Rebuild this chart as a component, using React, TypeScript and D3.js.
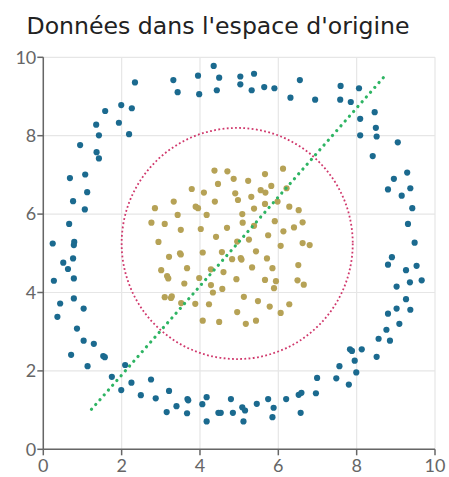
import React from 'react';
import * as d3 from 'd3';

// outer ring (blue) points
const ringX = [2.34, 3.32, 3.43, 3.95, 3.98, 4.35, 4.49, 4.43, 2.26, 1.99, 1.58, 1.35, 1.93, 1.42, 2.19, 0.94, 1.36, 1.42, 1.07, 0.68, 1.12, 0.76, 1.06, 0.66, 0.24, 0.79, 0.78, 0.76,
  0.51, 0.63, 0.27, 0.78, 0.43, 0.78, 0.36, 1.03, 0.86, 1.03, 1.29, 0.71, 1.53, 1.57, 1.13, 2.09, 1.75, 1.99, 2.25, 2.75, 2.49, 2.87, 3.21, 3.15, 3.40, 3.68, 3.70, 3.67, 4.06, 4.17, 4.17, 4.47, 4.53,
  4.79, 4.84, 5.08, 5.15, 5.11, 5.45, 5.74, 5.88, 5.85, 6.20, 6.52, 6.59, 6.57, 6.96, 6.99, 7.48, 7.80, 7.56, 7.99, 7.95, 7.83, 7.88, 8.13, 8.51, 8.56, 8.85, 8.76, 9.09, 8.80, 9.02, 9.37, 9.26, 9.02, 9.36, 9.66, 9.26, 9.53, 8.80, 8.90,
  5.03, 5.38, 5.03, 5.32, 5.64, 5.90, 6.55, 6.31, 6.94, 7.59, 8.06, 7.58, 7.85, 8.46, 8.09, 8.49, 8.09, 8.51, 9.05, 8.41, 9.29, 8.95, 8.80, 9.37, 9.15, 9.42, 9.31, 9.48];
const ringY = [9.36, 9.42, 9.11, 9.53, 9.06, 9.78, 9.48, 9.16, 8.70, 8.78, 8.63, 8.28, 8.33, 8.01, 8.04, 7.76, 7.58, 7.42, 7.01, 6.92, 6.56, 6.33, 6.12, 5.75, 5.25, 5.29, 5.21, 4.87,
  4.76, 4.60, 4.30, 4.36, 3.72, 3.85, 3.38, 3.59, 3.08, 2.77, 2.69, 2.41, 2.38, 2.35, 2.12, 2.15, 1.85, 1.51, 1.70, 1.78, 1.38, 1.30, 1.49, 0.95, 1.10, 1.28, 1.25, 0.92, 1.15, 1.33, 0.71, 0.93, 0.93,
  1.28, 0.93, 1.07, 0.99, 0.71, 1.16, 1.28, 1.06, 0.82, 1.28, 1.39, 1.44, 0.93, 1.43, 1.82, 1.81, 1.65, 2.12, 1.96, 2.26, 2.55, 2.51, 2.55, 2.36, 2.82, 2.77, 3.05, 3.20, 3.46, 3.59, 3.56, 3.83, 4.15, 4.26, 4.31, 4.57, 4.68, 4.71, 4.90,
  9.51, 9.58, 9.31, 9.16, 9.24, 9.21, 9.42, 8.97, 8.92, 9.27, 9.21, 8.92, 8.86, 8.60, 8.43, 8.20, 8.01, 7.98, 7.83, 7.48, 7.06, 6.90, 6.63, 6.66, 6.47, 6.15, 5.75, 5.27];

// inner cluster (gold) points
const coreX = [4.37, 4.70, 6.12, 5.66, 4.86, 4.46, 5.23, 5.82, 3.79, 4.10, 4.90, 5.55, 5.67, 6.21, 5.31, 4.97, 4.38, 3.33, 3.89, 3.95, 5.66, 5.98, 2.85, 5.38, 6.28, 6.52,
  3.43, 4.17, 5.08, 2.76, 3.10, 5.09, 5.38, 5.91, 6.62, 3.51, 4.02, 4.69, 6.40, 6.13, 2.94, 4.41, 5.25, 5.74, 4.95, 6.62, 6.80, 6.06, 3.21, 3.49, 3.51, 4.07, 4.56, 5.43,
  4.82, 5.04, 5.06, 5.71, 6.51, 3.01, 3.67, 4.28, 5.33, 5.85, 3.16, 3.19, 3.98, 4.60, 4.93, 5.66, 5.94, 6.49, 3.60, 4.28, 6.65, 4.57, 5.89, 3.10, 3.26, 3.28, 4.33, 5.12,
  3.52, 3.88, 4.23, 5.48, 5.78, 6.28, 4.95, 6.06, 4.07, 4.49, 5.17, 5.43];
const coreY = [7.11, 7.09, 7.16, 7.02, 6.90, 6.77, 6.85, 6.72, 6.64, 6.55, 6.53, 6.61, 6.55, 6.66, 6.44, 6.36, 6.32, 6.32, 6.19, 6.15, 6.26, 6.32, 6.15, 6.14, 6.19, 6.10,
  5.98, 5.98, 6.00, 5.78, 5.75, 5.78, 5.70, 5.82, 5.79, 5.60, 5.62, 5.65, 5.66, 5.56, 5.29, 5.42, 5.35, 5.46, 5.30, 5.26, 5.21, 5.19, 4.91, 5.00, 4.97, 5.02, 5.03, 5.05,
  4.85, 4.88, 4.84, 4.87, 4.70, 4.57, 4.62, 4.59, 4.64, 4.62, 4.42, 4.36, 4.37, 4.52, 4.34, 4.32, 4.29, 4.31, 4.23, 4.19, 4.20, 4.09, 4.11, 3.88, 3.86, 3.90, 4.00, 3.89,
  3.73, 3.71, 3.70, 3.78, 3.64, 3.70, 3.50, 3.48, 3.28, 3.25, 3.20, 3.28];

// dotted separating line (start, end)
const lineX = [1.23, 8.76];
const lineY = [1.02, 9.57];
// dashed circle: center and radius
const circleCenter = [4.95, 5.25];
const circleRadius = 2.95;

const ticks = [0, 2, 4, 6, 8, 10];
const title = "Données dans l'espace d'origine";

const W = 449;
const H = 477;

export default function App() {
  const x = d3.scaleLinear().domain([0, 10]).range([43.3, 435]);
  const y = d3.scaleLinear().domain([0, 10]).range([449.3, 57.3]);
  const unit = x(1) - x(0);

  const line = d3.line<number>()
    .x((d, i) => x(lineX[i]))
    .y((d, i) => y(lineY[i]));

  return (
    <svg width={W} height={H} style={{ position: 'absolute', left: 0, top: 0, background: '#fff' }}>
      <text x={218} y={34} textAnchor="middle" fontFamily="DejaVu Sans" fontSize={23.6} fill="#222">{title}</text>

      {/* grid */}
      {ticks.map(t => (
        <g key={'g' + t}>
          <line x1={x(t)} x2={x(t)} y1={y(0)} y2={y(10)} stroke="#e6e6e6" strokeWidth={1.2} />
          <line x1={x(0)} x2={x(10)} y1={y(t)} y2={y(t)} stroke="#e6e6e6" strokeWidth={1.2} />
        </g>
      ))}

      {/* axes */}
      <line x1={x(0)} x2={x(0)} y1={y(0)} y2={y(10)} stroke="#666" strokeWidth={1.5} />
      <line x1={x(0)} x2={x(10)} y1={y(0)} y2={y(0)} stroke="#666" strokeWidth={1.5} />
      {ticks.map(t => (
        <g key={'t' + t} fontFamily="Lato" fontSize={18} fill="#666">
          <line x1={x(0) - 6} x2={x(0)} y1={y(t)} y2={y(t)} stroke="#666" strokeWidth={1.5} />
          <text x={x(0) - 7} y={y(t)} dy="0.35em" textAnchor="end">{t}</text>
          <line x1={x(t)} x2={x(t)} y1={y(0)} y2={y(0) + 6} stroke="#666" strokeWidth={1.5} />
          <text x={x(t)} y={y(0) + 8} dy="0.8em" textAnchor="middle">{t}</text>
        </g>
      ))}

      {/* dashed circle */}
      <circle cx={x(circleCenter[0])} cy={y(circleCenter[1])} r={circleRadius * unit}
        fill="none" stroke="#d0386c" strokeWidth={1.8} strokeDasharray="1.8 2.4" />

      {ringX.map((v, i) => (
        <circle key={'r' + i} cx={x(v)} cy={y(ringY[i])} r={3.1} fill="#1b6a8f" />
      ))}
      {coreX.map((v, i) => (
        <circle key={'c' + i} cx={x(v)} cy={y(coreY[i])} r={3.1} fill="#b6a256" />
      ))}

      {/* dotted line */}
      <path d={line(lineX) || ''} fill="none" stroke="#2eb463" strokeWidth={3.2}
        strokeLinecap="round" strokeDasharray="0.1 6.3" />
    </svg>
  );
}
